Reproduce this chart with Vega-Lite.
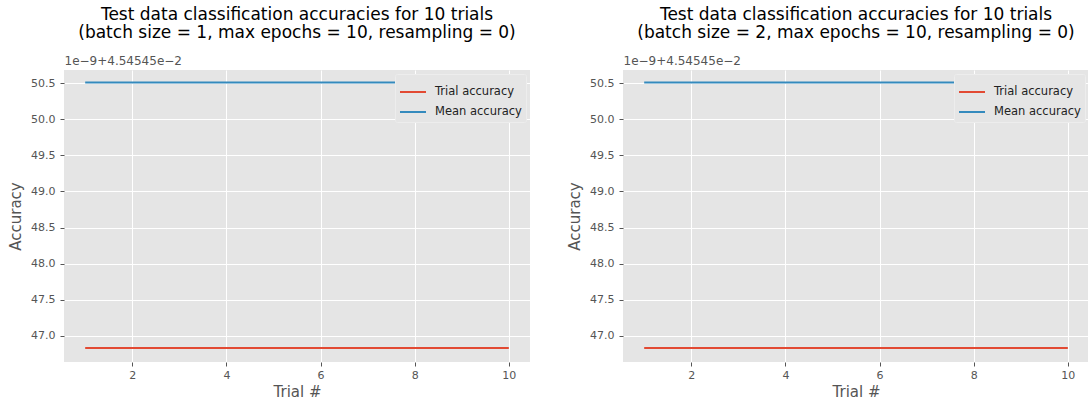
{
  "$schema": "https://vega.github.io/schema/vega-lite/v6.json",
  "padding": {"left": 8, "top": 6, "right": 0, "bottom": 0},
  "background": "#FFFFFF",
  "data": {"values": [
    {"panel": 1, "trial": 1, "series": "Trial accuracy", "acc": 46.83},
    {"panel": 1, "trial": 2, "series": "Trial accuracy", "acc": 46.83},
    {"panel": 1, "trial": 3, "series": "Trial accuracy", "acc": 46.83},
    {"panel": 1, "trial": 4, "series": "Trial accuracy", "acc": 46.83},
    {"panel": 1, "trial": 5, "series": "Trial accuracy", "acc": 46.83},
    {"panel": 1, "trial": 6, "series": "Trial accuracy", "acc": 46.83},
    {"panel": 1, "trial": 7, "series": "Trial accuracy", "acc": 46.83},
    {"panel": 1, "trial": 8, "series": "Trial accuracy", "acc": 46.83},
    {"panel": 1, "trial": 9, "series": "Trial accuracy", "acc": 46.83},
    {"panel": 1, "trial": 10, "series": "Trial accuracy", "acc": 46.83},
    {"panel": 1, "trial": 1, "series": "Mean accuracy", "acc": 50.51},
    {"panel": 1, "trial": 2, "series": "Mean accuracy", "acc": 50.51},
    {"panel": 1, "trial": 3, "series": "Mean accuracy", "acc": 50.51},
    {"panel": 1, "trial": 4, "series": "Mean accuracy", "acc": 50.51},
    {"panel": 1, "trial": 5, "series": "Mean accuracy", "acc": 50.51},
    {"panel": 1, "trial": 6, "series": "Mean accuracy", "acc": 50.51},
    {"panel": 1, "trial": 7, "series": "Mean accuracy", "acc": 50.51},
    {"panel": 1, "trial": 8, "series": "Mean accuracy", "acc": 50.51},
    {"panel": 1, "trial": 9, "series": "Mean accuracy", "acc": 50.51},
    {"panel": 1, "trial": 10, "series": "Mean accuracy", "acc": 50.51},
    {"panel": 2, "trial": 1, "series": "Trial accuracy", "acc": 46.83},
    {"panel": 2, "trial": 2, "series": "Trial accuracy", "acc": 46.83},
    {"panel": 2, "trial": 3, "series": "Trial accuracy", "acc": 46.83},
    {"panel": 2, "trial": 4, "series": "Trial accuracy", "acc": 46.83},
    {"panel": 2, "trial": 5, "series": "Trial accuracy", "acc": 46.83},
    {"panel": 2, "trial": 6, "series": "Trial accuracy", "acc": 46.83},
    {"panel": 2, "trial": 7, "series": "Trial accuracy", "acc": 46.83},
    {"panel": 2, "trial": 8, "series": "Trial accuracy", "acc": 46.83},
    {"panel": 2, "trial": 9, "series": "Trial accuracy", "acc": 46.83},
    {"panel": 2, "trial": 10, "series": "Trial accuracy", "acc": 46.83},
    {"panel": 2, "trial": 1, "series": "Mean accuracy", "acc": 50.51},
    {"panel": 2, "trial": 2, "series": "Mean accuracy", "acc": 50.51},
    {"panel": 2, "trial": 3, "series": "Mean accuracy", "acc": 50.51},
    {"panel": 2, "trial": 4, "series": "Mean accuracy", "acc": 50.51},
    {"panel": 2, "trial": 5, "series": "Mean accuracy", "acc": 50.51},
    {"panel": 2, "trial": 6, "series": "Mean accuracy", "acc": 50.51},
    {"panel": 2, "trial": 7, "series": "Mean accuracy", "acc": 50.51},
    {"panel": 2, "trial": 8, "series": "Mean accuracy", "acc": 50.51},
    {"panel": 2, "trial": 9, "series": "Mean accuracy", "acc": 50.51},
    {"panel": 2, "trial": 10, "series": "Mean accuracy", "acc": 50.51}
  ]},
  "spacing": 37,
  "hconcat": [
    {
      "width": 466,
      "height": 292,
      "title": {"text": ["Test data classification accuracies for 10 trials", "(batch size = 1, max epochs = 10, resampling = 0)"]},
      "transform": [{"filter": "datum.panel == 1"}],
      "layer": [
        {
          "mark": {"type": "line", "strokeWidth": 2, "clip": true},
          "encoding": {
            "x": {"field": "trial", "type": "quantitative", "scale": {"domain": [0.55, 10.45], "nice": false, "zero": false},
                  "axis": {"values": [2, 4, 6, 8, 10], "format": "d", "title": "Trial #", "labelPadding": 3, "titlePadding": 4}},
            "y": {"field": "acc", "type": "quantitative", "scale": {"domain": [46.635, 50.684], "nice": false, "zero": false},
                  "axis": {"values": [47, 47.5, 48, 48.5, 49, 49.5, 50, 50.5], "format": ".1f", "title": "Accuracy", "labelPadding": 5, "titlePadding": 7}},
            "color": {"field": "series", "type": "nominal",
                      "scale": {"domain": ["Trial accuracy", "Mean accuracy"], "range": ["#E24A33", "#348ABD"]},
                      "legend": {"orient": "top-right", "title": null}}
          }
        },
        {
          "mark": {"type": "line", "opacity": 0},
          "encoding": {
            "x": {"field": "trial", "type": "quantitative",
                  "axis": {"orient": "top", "title": "1e−9+4.54545e−2", "labels": false, "ticks": false, "domain": false, "grid": false,
                           "titleAnchor": "start", "titleAlign": "left", "titleFontSize": 12, "titlePadding": 3}},
            "y": {"field": "acc", "type": "quantitative"}
          }
        }
      ],
      "resolve": {"axis": {"x": "independent"}}
    },
    {
      "width": 466,
      "height": 292,
      "title": {"text": ["Test data classification accuracies for 10 trials", "(batch size = 2, max epochs = 10, resampling = 0)"]},
      "transform": [{"filter": "datum.panel == 2"}],
      "layer": [
        {
          "mark": {"type": "line", "strokeWidth": 2, "clip": true},
          "encoding": {
            "x": {"field": "trial", "type": "quantitative", "scale": {"domain": [0.55, 10.45], "nice": false, "zero": false},
                  "axis": {"values": [2, 4, 6, 8, 10], "format": "d", "title": "Trial #", "labelPadding": 3, "titlePadding": 4}},
            "y": {"field": "acc", "type": "quantitative", "scale": {"domain": [46.635, 50.684], "nice": false, "zero": false},
                  "axis": {"values": [47, 47.5, 48, 48.5, 49, 49.5, 50, 50.5], "format": ".1f", "title": "Accuracy", "labelPadding": 5, "titlePadding": 7}},
            "color": {"field": "series", "type": "nominal",
                      "scale": {"domain": ["Trial accuracy", "Mean accuracy"], "range": ["#E24A33", "#348ABD"]},
                      "legend": {"orient": "top-right", "title": null}}
          }
        },
        {
          "mark": {"type": "line", "opacity": 0},
          "encoding": {
            "x": {"field": "trial", "type": "quantitative",
                  "axis": {"orient": "top", "title": "1e−9+4.54545e−2", "labels": false, "ticks": false, "domain": false, "grid": false,
                           "titleAnchor": "start", "titleAlign": "left", "titleFontSize": 12, "titlePadding": 3}},
            "y": {"field": "acc", "type": "quantitative"}
          }
        }
      ],
      "resolve": {"axis": {"x": "independent"}}
    }
  ],
  "resolve": {"scale": {"color": "independent"}, "legend": {"color": "independent"}},
  "config": {
    "font": "DejaVu Sans",
    "view": {"fill": "#E5E5E5", "stroke": null},
    "axis": {
      "domain": false, "gridColor": "#FFFFFF", "gridWidth": 1, "tickColor": "#555555", "tickSize": 4,
      "labelColor": "#555555", "labelFontSize": 11, "labelFont": "DejaVu Sans",
      "titleColor": "#555555", "titleFontSize": 15, "titleFontWeight": "normal", "titleFont": "DejaVu Sans"
    },
    "title": {"fontSize": 17, "fontWeight": "normal", "color": "#000000", "lineHeight": 18, "offset": 12, "font": "DejaVu Sans", "anchor": "middle"},
    "legend": {
      "fillColor": "#E5E5E5", "strokeColor": "#EDEDED", "padding": 4, "offset": 4,
      "symbolType": "M-1,0H1", "symbolStrokeWidth": 2, "symbolSize": 676,
      "labelFontSize": 11.5, "labelColor": "#222222", "labelFont": "DejaVu Sans", "rowPadding": -3, "cornerRadius": 2, "labelOffset": 8
    }
  }
}
